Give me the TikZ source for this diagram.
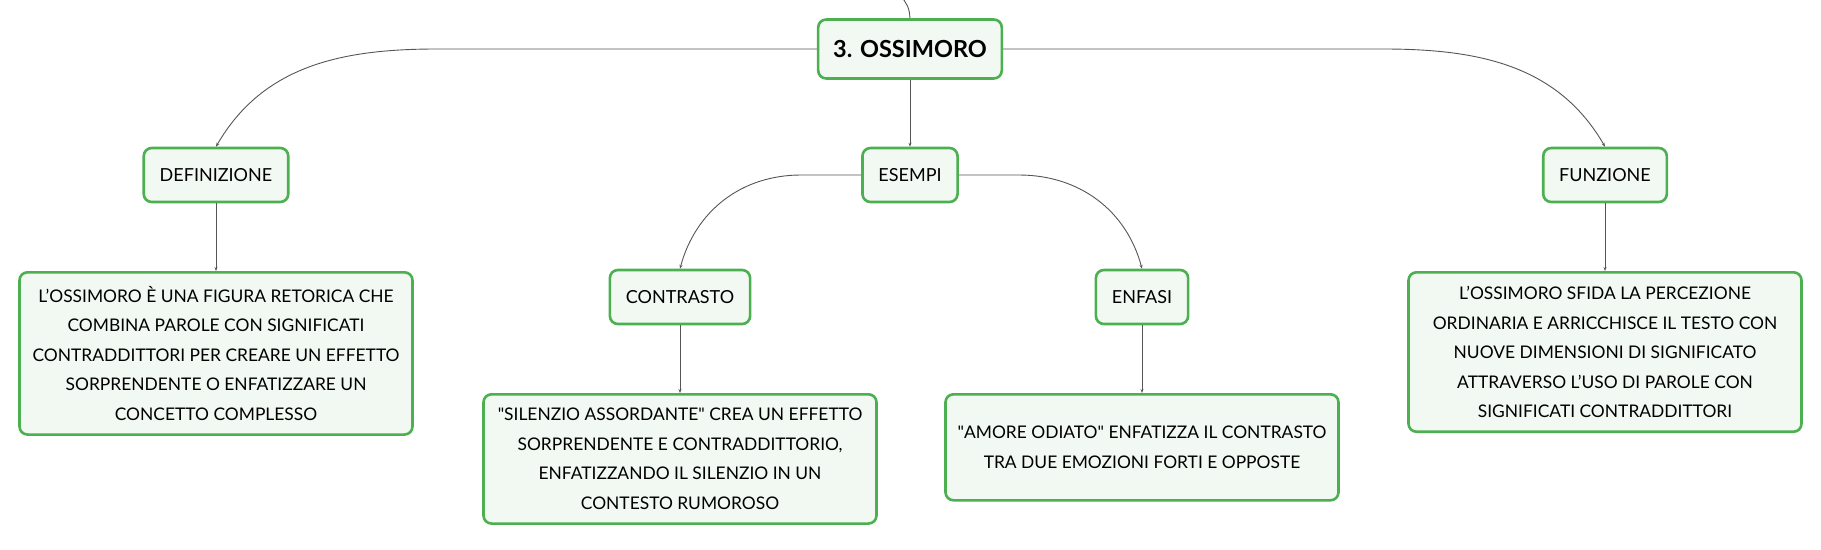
\documentclass[tikz,border=0pt]{standalone}
\usepackage{fontspec}
\setmainfont{Lato}
\usepackage{tikz}
\usetikzlibrary{arrows.meta, positioning}
\definecolor{mapgreen}{RGB}{76, 175, 80}
\definecolor{mapfill}{RGB}{241, 249, 242}
\definecolor{linkgray}{RGB}{85, 85, 85}

\begin{document}
\begin{tikzpicture}[x=1pt, y=-1pt,
    box/.style={draw=mapgreen, fill=mapfill, line width=2.6pt, rounded corners=8pt, align=center},
    root/.style={box, minimum height=59pt, inner xsep=15pt, font=\fontsize{23.5}{28}\selectfont\bfseries},
    topic/.style={box, minimum height=54pt, inner xsep=16pt, font=\fontsize{18}{27}\selectfont},
    leaf/.style={box, anchor=north, minimum width=393pt, minimum height=106pt, inner ysep=14pt, font=\fontsize{17.4}{29.5}\selectfont},
    link/.style={linkgray, line width=0.9pt, -{Stealth[length=4pt, width=3pt]}}]
    \useasboundingbox (0,0) rectangle (1821,549);

    \node[root] (root) at (910,49) {3. OSSIMORO};
    \coordinate (parent) at (902,-3);
    \draw[linkgray, line width=0.9pt] (root.north) .. controls (909,8) .. (parent);

    \node[topic] (definizione) at (216,175) {DEFINIZIONE};
    \node[topic] (esempi) at (910,175) {ESEMPI};
    \node[topic] (funzione) at (1605,175) {FUNZIONE};
    \node[topic] (contrasto) at (680,297) {CONTRASTO};
    \node[topic] (enfasi) at (1142,297) {ENFASI};

    \node[leaf] (defdesc) at (216,271) {L'OSSIMORO È UNA FIGURA RETORICA CHE\\ COMBINA PAROLE CON SIGNIFICATI\\ CONTRADDITTORI PER CREARE UN EFFETTO\\ SORPRENDENTE O ENFATIZZARE UN\\ CONCETTO COMPLESSO};
    \node[leaf] (contrdesc) at (680,393) {\textquotedbl SILENZIO ASSORDANTE\textquotedbl{} CREA UN EFFETTO\\ SORPRENDENTE E CONTRADDITTORIO,\\ ENFATIZZANDO IL SILENZIO IN UN\\ CONTESTO RUMOROSO};
    \node[leaf] (enfdesc) at (1142,393) {\textquotedbl AMORE ODIATO\textquotedbl{} ENFATIZZA IL CONTRASTO\\ TRA DUE EMOZIONI FORTI E OPPOSTE};
    \node[leaf] (funzdesc) at (1605,271) {L'OSSIMORO SFIDA LA PERCEZIONE\\ ORDINARIA E ARRICCHISCE IL TESTO CON\\ NUOVE DIMENSIONI DI SIGNIFICATO\\ ATTRAVERSO L'USO DI PAROLE CON\\ SIGNIFICATI CONTRADDITTORI};

    % rami principali
    \draw[link] (root.west) -- ++(-380,0) to[out=180, in=60] (definizione.north);
    \draw[link] (root.south) -- (esempi.north);
    \draw[link] (root.east) -- ++(380,0) to[out=0, in=120] (funzione.north);

    % esempi
    \draw[link] (esempi.west) -- ++(-60,0) to[out=180, in=75] (contrasto.north);
    \draw[link] (esempi.east) -- ++(60,0) to[out=0, in=105] (enfasi.north);

    % descrizioni
    \draw[link] (definizione) -- (defdesc);
    \draw[link] (contrasto) -- (contrdesc);
    \draw[link] (enfasi) -- (enfdesc);
    \draw[link] (funzione) -- (funzdesc);
\end{tikzpicture}
\end{document}
